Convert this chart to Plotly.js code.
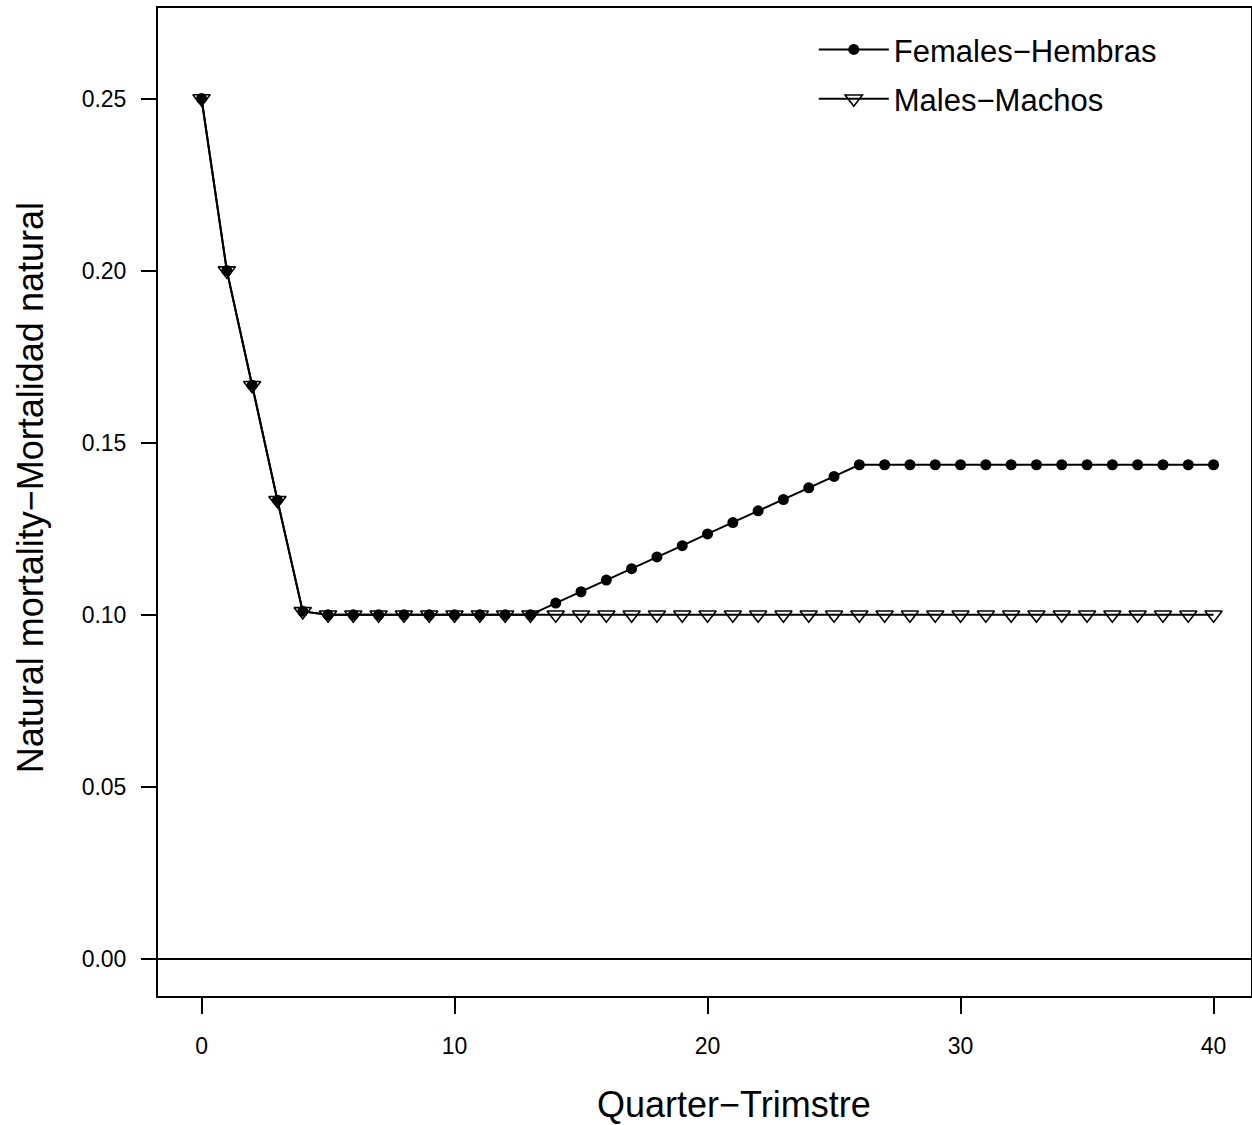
<!DOCTYPE html>
<html>
<head>
<meta charset="utf-8">
<script src="https://cdn.plot.ly/plotly-3.0.1.min.js"></script>
<style>html,body{margin:0;padding:0;background:#fff}</style>
</head>
<body>
<div id="chart" style="width:1252px;height:1125px"></div>
<script>
const quarters = [0,1,2,3,4,5,6,7,8,9,10,11,12,13,14,15,16,17,18,19,20,21,22,23,24,25,26,27,28,29,30,31,32,33,34,35,36,37,38,39,40];
const females = [0.25,0.2,0.1667,0.1333,0.101,0.1,0.1,0.1,0.1,0.1,0.1,0.1,0.1,0.1,
  0.1034,0.1067,0.1101,0.1134,0.1168,0.1201,0.1235,0.1268,0.1302,0.1335,0.1369,0.1402,
  0.1436,0.1436,0.1436,0.1436,0.1436,0.1436,0.1436,0.1436,0.1436,0.1436,0.1436,0.1436,0.1436,0.1436,0.1436];
const males = [0.25,0.2,0.1667,0.1333,0.101,0.1,0.1,0.1,0.1,0.1,0.1,0.1,0.1,0.1,
  0.1,0.1,0.1,0.1,0.1,0.1,0.1,0.1,0.1,0.1,0.1,0.1,
  0.1,0.1,0.1,0.1,0.1,0.1,0.1,0.1,0.1,0.1,0.1,0.1,0.1,0.1,0.1];
const seriesNames = ["Females\u2212Hembras", "Males\u2212Machos"];
const xTickVals = [0,10,20,30,40];
const yTickVals = [0,0.05,0.1,0.15,0.2,0.25];
const yTickText = ["0.00","0.05","0.10","0.15","0.20","0.25"];
const xTitle = "Quarter\u2212Trimstre";
const yTitle = "Natural mortality\u2212Mortalidad natural";

const FONT = "Liberation Sans, Arial, Helvetica, sans-serif";

const traces = [
  {
    x: quarters, y: females, name: seriesNames[0], type: "scatter", mode: "lines+markers",
    legendgroup: "f",
    line: {color: "#000", width: 2},
    marker: {symbol: "circle", size: 11, color: "#000"}
  },
  {
    x: quarters, y: males, name: seriesNames[1], type: "scatter", mode: "lines+markers",
    legendgroup: "m",
    line: {color: "#000", width: 2},
    marker: {symbol: "triangle-down-open", size: 15, color: "#000", line: {color: "#000", width: 1.6}}
  }
];

const layout = {
  width: 1252, height: 1125,
  margin: {l: 158, r: 1, t: 8, b: 129},
  paper_bgcolor: "#fff", plot_bgcolor: "#fff",
  font: {family: FONT, color: "#000", size: 23},
  showlegend: true,
  legend: {
    x: 0.6, y: 0.985, xanchor: "left", yanchor: "top",
    bgcolor: "rgba(0,0,0,0)", borderwidth: 0,
    font: {family: FONT, size: 31, color: "#000"},
    tracegroupgap: 6,
    itemwidth: 70
  },
  xaxis: {
    range: [-1.72, 41.48], tickvals: xTickVals, ticks: "outside", ticklen: 16, tickwidth: 2,
    tickcolor: "#000", showline: true, linewidth: 2, linecolor: "#000", mirror: true,
    showgrid: false, zeroline: false, ticklabelstandoff: 12,
    tickfont: {family: FONT, size: 23, color: "#000"}
  },
  yaxis: {
    range: [-0.01075, 0.2763], tickvals: yTickVals, ticktext: yTickText, ticks: "outside", ticklen: 15, tickwidth: 2,
    tickcolor: "#000", showline: true, linewidth: 2, linecolor: "#000", mirror: true,
    showgrid: false, zeroline: false, ticklabelstandoff: 10,
    tickfont: {family: FONT, size: 23, color: "#000"}
  },
  shapes: [
    {type: "line", xref: "paper", x0: 0, x1: 1, yref: "y", y0: 0, y1: 0, line: {color: "#000", width: 2}, layer: "below"}
  ],
  annotations: [
    {text: xTitle, xref: "paper", yref: "paper", x: 0.527, y: -0.110, xanchor: "center", yanchor: "middle",
     showarrow: false, font: {family: FONT, size: 36, color: "#000"}},
    {text: yTitle, xref: "paper", yref: "paper", x: -0.117, y: 0.514, xanchor: "center", yanchor: "middle",
     textangle: -90, showarrow: false, font: {family: FONT, size: 36, color: "#000"}}
  ]
};

Plotly.newPlot("chart", traces, layout, {displayModeBar: false, staticPlot: true});
</script>
</body>
</html>
